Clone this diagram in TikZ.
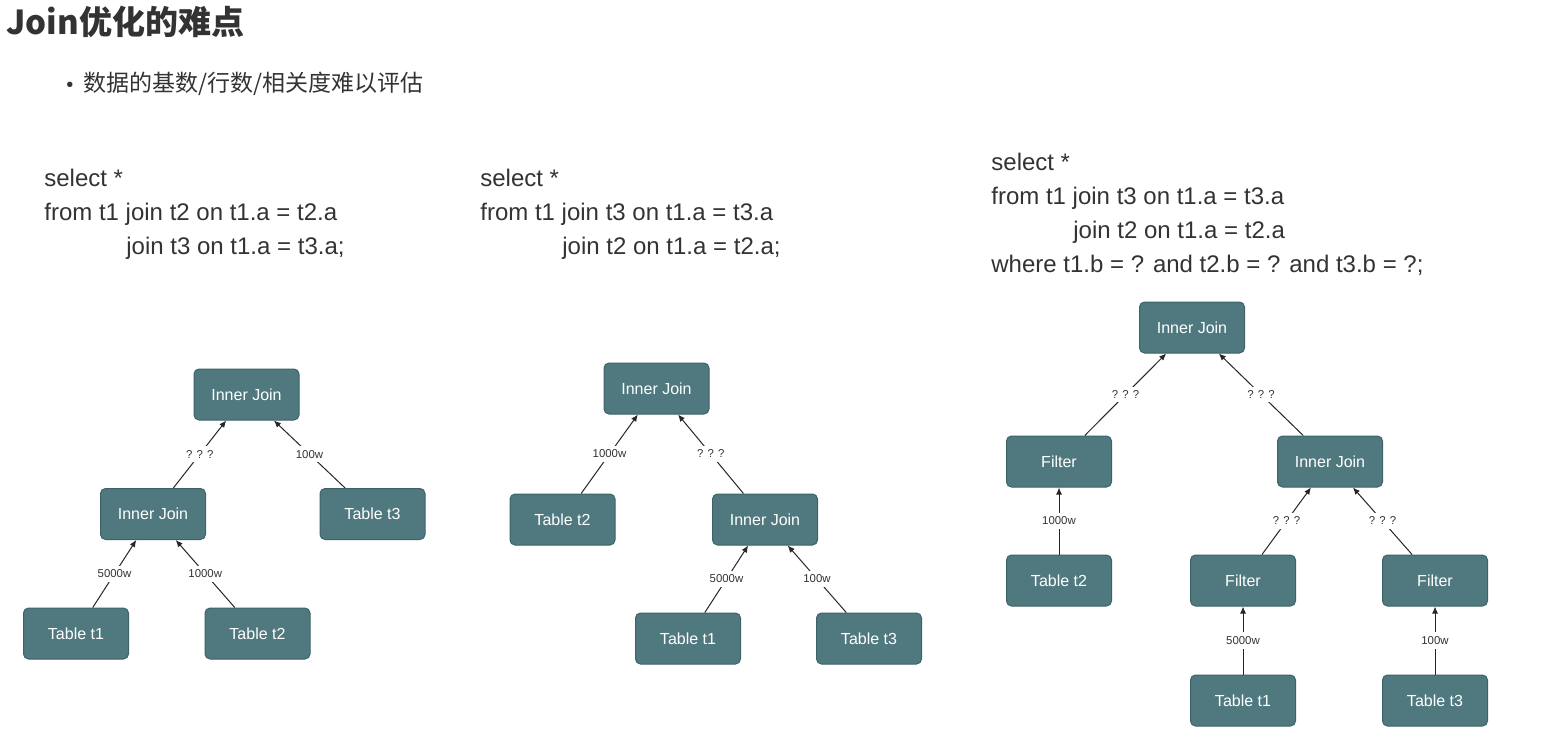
\documentclass[tikz,border=0pt]{standalone}
\usepackage{fontspec}
\setmainfont{Liberation Sans}
\newfontfamily\cjk{Noto Sans CJK SC}
\usetikzlibrary{arrows.meta}
\definecolor{boxfill}{RGB}{79,121,127}
\definecolor{boxline}{RGB}{62,98,104}
\definecolor{ink}{RGB}{51,51,51}

\begin{document}
\begin{tikzpicture}[
			x=0.5pt, y=-0.5pt
			,op/.style={rectangle, rounded corners=2.5pt, draw=boxline, line width=0.5pt, fill=boxfill, text=white, minimum width=52.5pt, minimum height=25.5pt, font=\fontsize{8}{9.6}\selectfont}
			,lbl/.style={fill=white, inner sep=2pt, text=ink, font=\fontsize{5.7}{6}\selectfont}
			,flow/.style={draw=black!85, line width=0.5pt, -{Latex[length=3.5pt,width=3pt]}}
			,sql/.style={anchor=west, align=left, inner sep=0pt, text=ink, font=\fontsize{12}{17}\selectfont}
		]
			\useasboundingbox [fill=white] (0,0) rectangle (1548,739);

			\node [anchor=west, inner sep=0pt, text=ink, font=\cjk\bfseries\fontsize{16.5}{20}\selectfont] (title) at (6,22) {Join优化的难点};
			\node [anchor=west, inner sep=0pt, text=ink, font=\fontsize{11.5}{14}\selectfont] (point) at (66,84) {{\fontsize{10}{10}\selectfont\textbullet}\hspace{5pt}{\cjk 数据的基数/行数/相关度难以评估}};

			\node [sql] (q1) at (44,214) {select *\\from t1 join t2 on t1.a = t2.a\\\hspace*{41pt}join t3 on t1.a = t3.a;};
			\node [sql] (q2) at (480,214) {select *\\from t1 join t3 on t1.a = t3.a\\\hspace*{41pt}join t2 on t1.a = t2.a;};
			\node [sql] (q3) at (991,214) {select *\\from t1 join t3 on t1.a = t3.a\\\hspace*{41pt}join t2 on t1.a = t2.a\\where t1.b = ? and t2.b = ? and t3.b = ?;};

			\node [op] (JA) at (246.5,394.5) {Inner Join};
			\node [op] (JB) at (153,514) {Inner Join};
			\node [op] (A3) at (372.5,514) {Table t3};
			\node [op] (A1) at (76,633.5) {Table t1};
			\node [op] (A2) at (257.5,633.5) {Table t2};
			\draw [flow] (JB) -- node [lbl] {? ? ?} (JA);
			\draw [flow] (A3) -- node [lbl] {100w} (JA);
			\draw [flow] (A1) -- node [lbl] {5000w} (JB);
			\draw [flow] (A2) -- node [lbl] {1000w} (JB);

			\node [op] (JC) at (656.5,388.5) {Inner Join};
			\node [op] (B2) at (562.5,519.5) {Table t2};
			\node [op] (JD) at (765,519.5) {Inner Join};
			\node [op] (B1) at (688,638.5) {Table t1};
			\node [op] (B3) at (869,638.5) {Table t3};
			\draw [flow] (B2) -- node [lbl] {1000w} (JC);
			\draw [flow] (JD) -- node [lbl] {? ? ?} (JC);
			\draw [flow] (B1) -- node [lbl] {5000w} (JD);
			\draw [flow] (B3) -- node [lbl] {100w} (JD);

			\node [op] (JE) at (1192,327.5) {Inner Join};
			\node [op] (F2) at (1059,461.5) {Filter};
			\node [op] (JF) at (1330,461.5) {Inner Join};
			\node [op] (C2) at (1059,580.5) {Table t2};
			\node [op] (F1) at (1243,580.5) {Filter};
			\node [op] (F3) at (1435,580.5) {Filter};
			\node [op] (C1) at (1243,700.5) {Table t1};
			\node [op] (C3) at (1435,700.5) {Table t3};
			\draw [flow] (F2) -- node [lbl] {? ? ?} (JE);
			\draw [flow] (JF) -- node [lbl] {? ? ?} (JE);
			\draw [flow] (C2) -- node [lbl] {1000w} (F2);
			\draw [flow] (F1) -- node [lbl] {? ? ?} (JF);
			\draw [flow] (F3) -- node [lbl] {? ? ?} (JF);
			\draw [flow] (C1) -- node [lbl] {5000w} (F1);
			\draw [flow] (C3) -- node [lbl] {100w} (F3);
		\end{tikzpicture}
\end{document}
